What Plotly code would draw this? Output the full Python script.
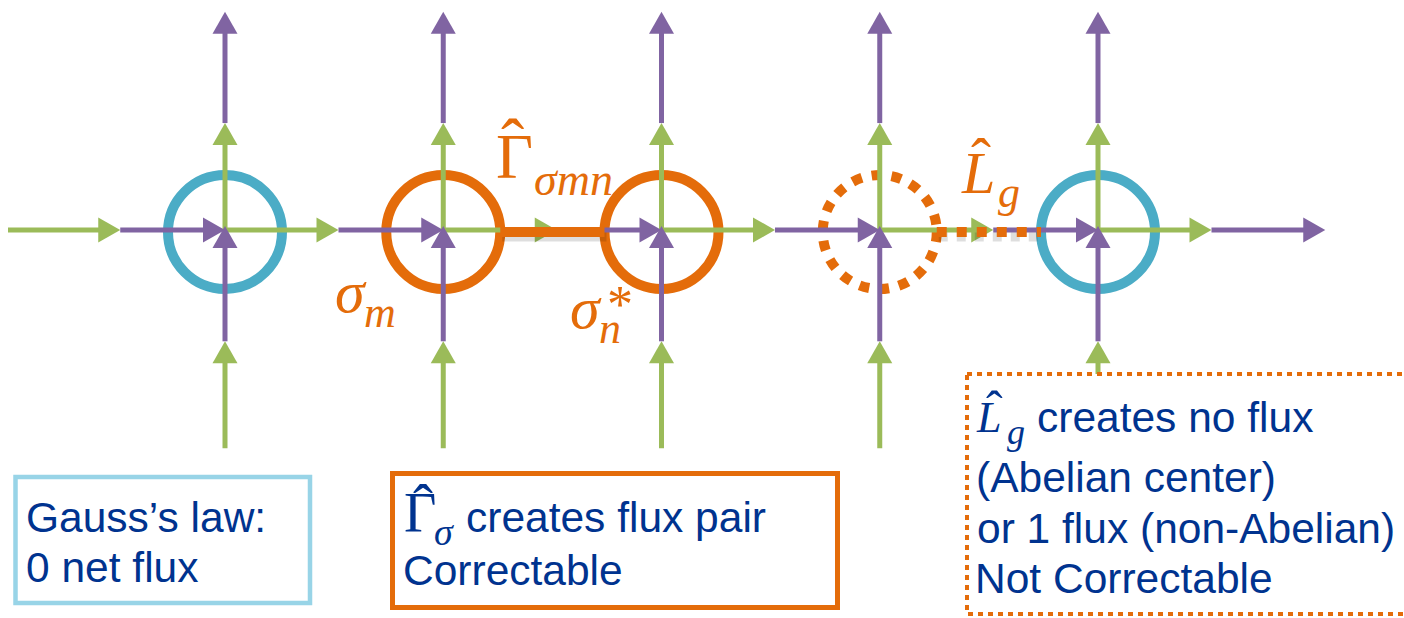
import plotly.graph_objects as go

# ---------------- data ----------------
site_index = [0, 1, 2, 3, 4]
site_ring = ["gauss", "flux", "flux", "open", "gauss"]
h_edge_from = [-1, 0, 1, 2, 3, 4]          # horizontal edge i -> i+1 on the chain
op_from = [1, 3]                            # string operators between sites
op_to = [2, 4]
op_style = ["solid", "dot"]
gauss_text = ["Gauss\u2019s law:", "0 net flux"]
pair_text = ["creates flux pair", "Correctable"]
lg_text = ["creates no flux", "(Abelian center)", "or 1 flux (non-Abelian)", "Not Correctable"]

# ---------------- style ----------------
PURPLE = "#8064A2"
GREEN = "#9BBB59"
CYAN = "#4BACC6"
ORANGE = "#E46C0A"
NAVY = "#00338F"
LIGHTCYAN = "#98D4E7"
SANS = "Liberation Sans"
SERIF = "Liberation Serif"

W, H = 1404, 618
S = 218.25          # pixels per lattice unit
OX, OY = 225, 230   # pixel position of site 0


def X(px):
    return (px - OX) / S


def Y(py):
    return (OY - py) / S


def u(p):
    return p / S


LINE_W = 5
HEAD_L = u(22)
HEAD_HW = u(12.5)
GF_H = 0.52     # fraction of horizontal edge drawn green
GF_V = 0.49     # fraction of vertical edge drawn green
V_OVER = u(4)
RING_R = u(57)
LEFT_CLIP = X(8)
RIGHT_EXT = u(9)

shapes = []


def seg(x0, y0, x1, y1, color, width=LINE_W, dash="solid"):
    shapes.append(dict(type="line", xref="x", yref="y", x0=x0, y0=y0, x1=x1, y1=y1,
                       line=dict(color=color, width=width, dash=dash), layer="above"))


def head(tx, ty, dx, dy, color):
    bx, by = tx - dx * HEAD_L, ty - dy * HEAD_L
    nx, ny = -dy, dx
    p = (f"M{tx},{ty} L{bx + nx * HEAD_HW},{by + ny * HEAD_HW} "
         f"L{bx - nx * HEAD_HW},{by - ny * HEAD_HW} Z")
    shapes.append(dict(type="path", xref="x", yref="y", path=p, fillcolor=color,
                       line=dict(width=0, color=color), layer="above"))


def arrow(x0, y0, x1, y1, color, over=0.0):
    L = ((x1 - x0) ** 2 + (y1 - y0) ** 2) ** 0.5
    dx, dy = (x1 - x0) / L, (y1 - y0) / L
    tx, ty = x1 + dx * over, y1 + dy * over
    seg(x0, y0, tx - dx * HEAD_L * 0.6, ty - dy * HEAD_L * 0.6, color)
    head(tx, ty, dx, dy, color)


# rings around sites
for i, kind in zip(site_index, site_ring):
    col = CYAN if kind == "gauss" else ORANGE
    dash = "dot" if kind == "open" else "solid"
    shapes.append(dict(type="circle", xref="x", yref="y",
                       x0=i - RING_R, x1=i + RING_R, y0=-RING_R - u(2), y1=RING_R - u(2),
                       line=dict(color=col, width=10, dash=dash), layer="above"))

# edge segments: green first half, purple second half
green_parts, purple_parts = [], []
last = max(h_edge_from)
for i in h_edge_from:
    a, b = i, i + 1
    mid = a + GF_H
    green_parts.append((max(a, LEFT_CLIP), 0, mid, 0, 0.0))
    purple_parts.append((mid, 0, b, 0, RIGHT_EXT if i == last else 0.0))
for i in site_index:
    # from below into the site
    green_parts.append((i, -1, i, -1 + GF_V, 0.0))
    purple_parts.append((i, -1 + GF_V, i, 0, V_OVER))
    # from the site upwards
    green_parts.append((i, 0, i, GF_V, 0.0))
    purple_parts.append((i, GF_V, i, 1, 0.0))

for (x0, y0, x1, y1, ov) in green_parts:
    arrow(x0, y0, x1, y1, GREEN, ov)
for (x0, y0, x1, y1, ov) in purple_parts:
    arrow(x0, y0, x1, y1, PURPLE, ov)

# string operators
for a, b, st in zip(op_from, op_to, op_style):
    x0, x1 = a + RING_R, b - RING_R
    yb = -u(2)
    dash = "dot" if st == "dot" else "solid"
    seg(x0 + u(2), yb - u(5), x1 + u(2), yb - u(5), "rgba(0,0,0,0.13)", width=9, dash=dash)
    seg(x0, yb, x1, yb, ORANGE, width=10, dash=dash)

# text boxes
shapes.append(dict(type="rect", xref="x", yref="y", x0=X(15.5), x1=X(310), y0=Y(477), y1=Y(603),
                   line=dict(color=LIGHTCYAN, width=4.5), fillcolor="white", layer="above"))
shapes.append(dict(type="rect", xref="x", yref="y", x0=X(392.5), x1=X(837.5), y0=Y(473.5), y1=Y(607.5),
                   line=dict(color=ORANGE, width=5), fillcolor="white", layer="above"))
shapes.append(dict(type="rect", xref="x", yref="y", x0=X(967), x1=X(1420), y0=Y(374), y1=Y(614),
                   line=dict(color=ORANGE, width=4, dash="5px,5px"), fillcolor="white", layer="above"))

# ---------------- text ----------------
METRIC = {SANS: (0.905, 0.212), SERIF: (0.891, 0.216)}
annotations = []


def text(s, x_px, base_px, size, family, color, xanchor="left"):
    a, d = METRIC[family]
    yc = base_px - (a - d) / 2 * size
    annotations.append(dict(x=X(x_px), y=Y(yc), xref="x", yref="y", text=s, showarrow=False,
                            xanchor=xanchor, yanchor="middle", borderpad=0, borderwidth=0,
                            font=dict(family=family, size=size, color=color)))


HAT = "\u02c6"
# labels on the lattice
text("\u0393", 496, 178, 64, SERIF, ORANGE)
text(HAT, 512, 132 + 0.507 * 70, 70, SERIF, ORANGE, "center")
text("<i>\u03c3mn</i>", 534, 195, 46, SERIF, ORANGE)
text("<i>L</i>", 961, 193, 60, SERIF, ORANGE)
text(HAT, 981, 149 + 0.507 * 60, 60, SERIF, ORANGE, "center")
text("<i>g</i>", 998, 207, 44, SERIF, ORANGE)
text("<i>\u03c3</i>", 335, 312, 60, SERIF, ORANGE)
text("<i>m</i>", 364, 327, 44, SERIF, ORANGE)
text("<i>\u03c3</i>", 570, 328, 60, SERIF, ORANGE)
text("<i>n</i>", 599, 343, 44, SERIF, ORANGE)
text("*", 607, 322, 52, SERIF, ORANGE)

# box 1
text(gauss_text[0], 26, 532, 42.5, SANS, NAVY)
text(gauss_text[1], 26, 582, 42.5, SANS, NAVY)
# box 2
text("\u0393", 404, 532, 56, SERIF, NAVY)
text(HAT, 423, 495 + 0.507 * 60, 60, SERIF, NAVY, "center")
text("<i>\u03c3</i>", 434, 545, 38, SERIF, NAVY)
text(pair_text[0], 466, 532, 42.5, SANS, NAVY)
text(pair_text[1], 403, 585, 42.5, SANS, NAVY)
# box 3
text("<i>L</i>", 976, 432, 44, SERIF, NAVY)
text(HAT, 994, 401 + 0.507 * 50, 50, SERIF, NAVY, "center")
text("<i>g</i>", 1007, 444, 36, SERIF, NAVY)
text(lg_text[0], 1037, 432, 42.5, SANS, NAVY)
text(lg_text[1], 976, 492, 42.5, SANS, NAVY)
text(lg_text[2], 977, 543, 42.5, SANS, NAVY)
text(lg_text[3], 975, 593, 42.5, SANS, NAVY)

fig = go.Figure()
fig.add_trace(go.Scatter(x=site_index, y=[0] * len(site_index), mode="markers",
                         marker=dict(size=1, opacity=0), hoverinfo="skip", showlegend=False))
fig.update_layout(
    width=W, height=H, autosize=False,
    margin=dict(l=0, r=0, t=0, b=0),
    paper_bgcolor="white", plot_bgcolor="white", showlegend=False,
    xaxis=dict(range=[X(0), X(W)], visible=False, fixedrange=True),
    yaxis=dict(range=[Y(H), Y(0)], visible=False, fixedrange=True),
    shapes=shapes, annotations=annotations,
)
fig.write_html("out.html", config={"displayModeBar": False},
               post_script="document.body.style.margin='0';document.body.style.overflow='hidden';")
